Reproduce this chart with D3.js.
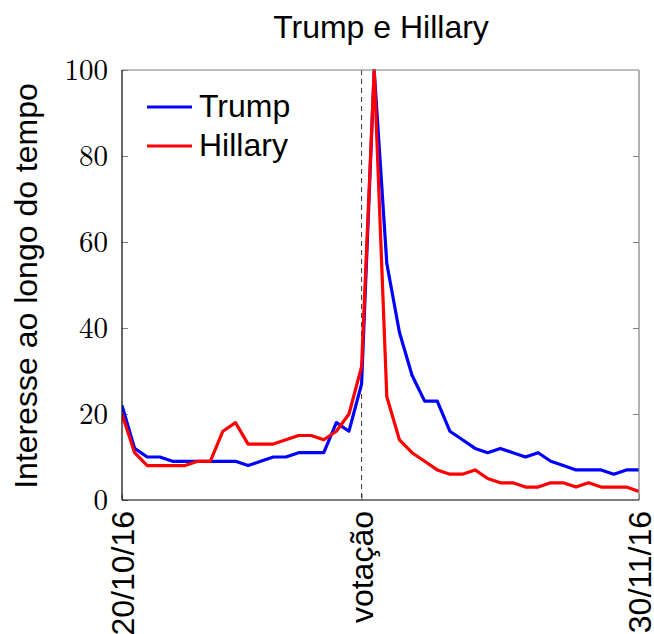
<!DOCTYPE html>
<html><head><meta charset="utf-8">
<script src="https://cdn.jsdelivr.net/npm/d3@7"></script>
<style>body{margin:0;background:#fff}</style>
</head><body>
<svg id="c" width="654" height="634"></svg>
<script>
const days = d3.range(0, 42);
const trump = [22,12,10,10,9,9,9,9,9,9,8,9,10,10,11,11,11,18,16,27,100,55,39,29,23,23,16,14,12,11,12,11,10,11,9,8,7,7,7,6,7,7];
const hillary = [20,11,8,8,8,8,9,9,16,18,13,13,13,14,15,15,14,16,20,31,100,24,14,11,9,7,6,6,7,5,4,4,3,3,4,4,3,4,3,3,3,2];
const xTickDays = [0, 19, 41];
const xTickLabels = ["20/10/16", "votação", "30/11/16"];
const yTicks = [0, 20, 40, 60, 80, 100];
const seriesNames = ["Trump", "Hillary"];
const seriesColors = ["#0000ff", "#ff0000"];

const svg = d3.select("#c");
const L = 122, R = 639, T = 70, B = 500;
const FS = 32;
const sans = "'Liberation Sans',Arial,sans-serif";
const x = d3.scaleLinear().domain([0, 41]).range([L, R]);
const y = d3.scaleLinear().domain([0, 100]).range([B, T]);

// y ticks left & right (inside)
const yl = svg.append("g").attr("transform", `translate(${L},0)`)
  .call(d3.axisLeft(y).tickValues(yTicks).tickSize(-6).tickPadding(14));
yl.select(".domain").remove();
yl.selectAll("line").attr("stroke", "#808080");
yl.selectAll("text").attr("font-family", "'Latin Modern Roman','Liberation Serif',serif").attr("font-size", 29).attr("fill", "#000");
const yr = svg.append("g").attr("transform", `translate(${R},0)`)
  .call(d3.axisRight(y).tickValues(yTicks.filter(v => v > 0 && v < 100)).tickSize(-6).tickFormat(""));
yr.select(".domain").remove();
yr.selectAll("line").attr("stroke", "#808080");

// x axis bottom
const xa = svg.append("g").attr("transform", `translate(0,${B})`)
  .call(d3.axisBottom(x).tickValues(xTickDays).tickSize(-6).tickFormat((d, i) => xTickLabels[i]));
xa.select(".domain").remove();
xa.selectAll("line").attr("stroke", "#808080");
xa.selectAll("text")
  .attr("font-family", sans).attr("font-size", FS).attr("fill", "#000")
  .attr("transform", "rotate(-90)").attr("text-anchor", "end")
  .attr("x", -11).attr("y", 0).attr("dy", "0.35em");

// vote dashed line
svg.append("line").attr("x1", x(19)).attr("x2", x(19)).attr("y1", T).attr("y2", B)
  .attr("stroke", "#000").attr("stroke-width", 1).attr("stroke-dasharray", "5,4").attr("opacity", 0.8);

// lines
const line = d3.line().x((d, i) => x(days[i])).y(d => y(d));
svg.append("clipPath").attr("id", "cp").append("rect")
  .attr("x", L).attr("y", T - 1).attr("width", R - L).attr("height", B - T + 1);
[trump, hillary].forEach((s, k) => {
  svg.append("path").datum(s).attr("d", line).attr("fill", "none")
    .attr("stroke", seriesColors[k]).attr("stroke-width", 3.2).attr("stroke-linejoin", "round")
    .attr("clip-path", "url(#cp)");
});

// frame
svg.append("line").attr("x1", L).attr("x2", R).attr("y1", T).attr("y2", T).attr("stroke", "#808080").attr("stroke-width", 1.2);
svg.append("line").attr("x1", R).attr("x2", R).attr("y1", T).attr("y2", B).attr("stroke", "#808080").attr("stroke-width", 1.2);
svg.append("line").attr("x1", L).attr("x2", L).attr("y1", T).attr("y2", B).attr("stroke", "#000").attr("stroke-width", 1.2);
svg.append("line").attr("x1", L).attr("x2", R).attr("y1", B).attr("y2", B).attr("stroke", "#000").attr("stroke-width", 1.2);

// legend
seriesNames.forEach((n, k) => {
  const ly = 107 + k * 39;
  svg.append("line").attr("x1", 147).attr("x2", 192).attr("y1", ly).attr("y2", ly)
    .attr("stroke", seriesColors[k]).attr("stroke-width", 3.2);
  svg.append("text").attr("x", 199).attr("y", ly + 10)
    .attr("font-family", sans).attr("font-size", FS).text(n);
});

// title
svg.append("text").attr("x", 381).attr("y", 38).attr("text-anchor", "middle")
  .attr("font-family", sans).attr("font-size", FS).text("Trump e Hillary");

// y title
svg.append("text").attr("transform", `translate(37,${(T + B) / 2 + 1}) rotate(-90)`)
  .attr("text-anchor", "middle")
  .attr("font-family", sans).attr("font-size", FS).text("Interesse ao longo do tempo");
</script>
</body></html>
